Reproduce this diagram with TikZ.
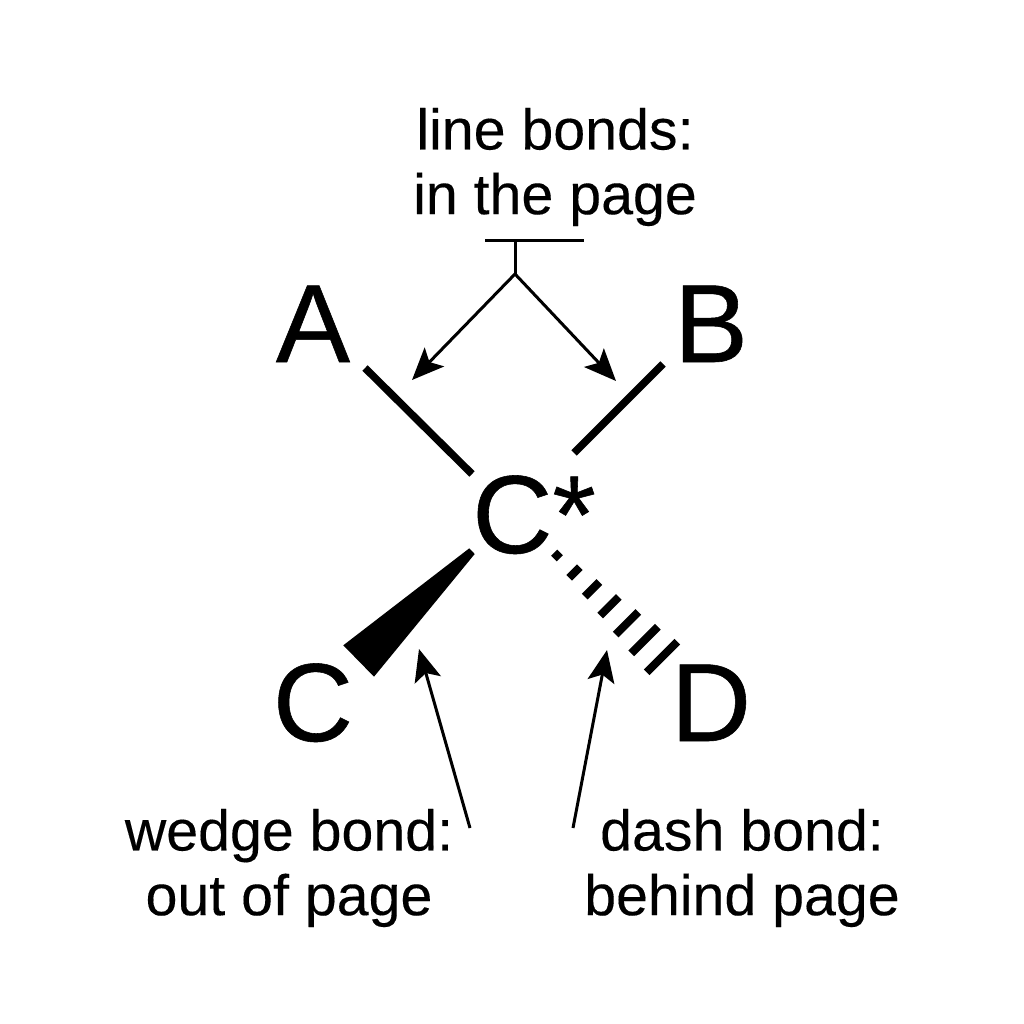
\documentclass[tikz,border=0pt]{standalone}
\usepackage{fontspec}
\setmainfont{Liberation Sans}
\newfontfamily\heavyfont[FakeBold=.5]{Liberation Sans}
\newfontfamily\notefont[FakeBold=.2]{Liberation Sans}
\usetikzlibrary{arrows.meta,calc}
\tikzset{
    atomlabel/.style={anchor=base, inner sep=0pt, font=\heavyfont\fontsize{31.6}{34}\selectfont},
    notelabel/.style={anchor=center, inner sep=0pt, align=center, font=\notefont\fontsize{16.3}{18.4}\selectfont},
    linebond/.style={line width=.075cm},
    dashbond/.style={line width=.08cm},
    noteline/.style={line width=.03cm},
    notearrow/.style={noteline, -{Stealth[length=.32cm, width=.27cm, inset=.07cm]}}
}
\begin{document}
\begin{tikzpicture}[x=.01cm, y=-.01cm]
    \useasboundingbox (0,0) rectangle (1024,1024);

    \node[notelabel] (linenote) at (555,167) {line bonds:\\in the page};
    \node[notelabel] (wedgenote) at (289,868) {wedge bond:\\out of page};
    \node[notelabel] (dashnote) at (742,868) {dash bond:\\behind page};

    \node[atomlabel] (atomA) at (313,362) {A};
    \node[atomlabel] (atomB) at (711,362) {B};
    \node[atomlabel] (center) at (534,553) {C*};
    \node[atomlabel] (atomC) at (313,741) {C};
    \node[atomlabel] (atomD) at (711,741) {D};

    \coordinate (bondAa) at (365,368);
    \coordinate (bondAb) at (472,474);
    \coordinate (bondBa) at (663,364);
    \coordinate (bondBb) at (574,453);
    \draw[linebond] (bondAa) -- (bondAb);
    \draw[linebond] (bondBa) -- (bondBb);

    \coordinate (wedgeA) at (469.3,548.3);
    \coordinate (wedgeB) at (474.7,554);
    \coordinate (wedgeC) at (374,676.7);
    \coordinate (wedgeD) at (343.3,645.3);
    \fill[black] (wedgeA) -- (wedgeB) -- (wedgeC) -- (wedgeD) -- cycle;

    \coordinate (dashstart) at (557,555.5);
    \coordinate (dashend) at (662,657);
    \foreach \t/\h in {0/3, 1/5.3, 2/7.3, 3/9.3, 4/11.3, 5/13.3, 6/15.3} {
        \coordinate (dashmid) at ($(dashstart)!\t/6!(dashend)$);
        \draw[dashbond] ($(dashmid)+(-\h,\h)$) -- ($(dashmid)+(\h,-\h)$);
    }

    \coordinate (barleft) at (485,240);
    \coordinate (barright) at (584,240);
    \coordinate (barmid) at (515,240);
    \coordinate (split) at (515,274);
    \coordinate (tipA) at (412,380);
    \coordinate (tipB) at (616,381);
    \draw[noteline] (barleft) -- (barright);
    \draw[noteline] (barmid) -- (split);
    \draw[notearrow] (split) -- (tipA);
    \draw[notearrow] (split) -- (tipB);

    \coordinate (wedgetail) at (470,828);
    \coordinate (wedgetip) at (419,649);
    \coordinate (dashtail) at (573,828);
    \coordinate (dashtip) at (607,650);
    \draw[notearrow] (wedgetail) -- (wedgetip);
    \draw[notearrow] (dashtail) -- (dashtip);
\end{tikzpicture}
\end{document}
